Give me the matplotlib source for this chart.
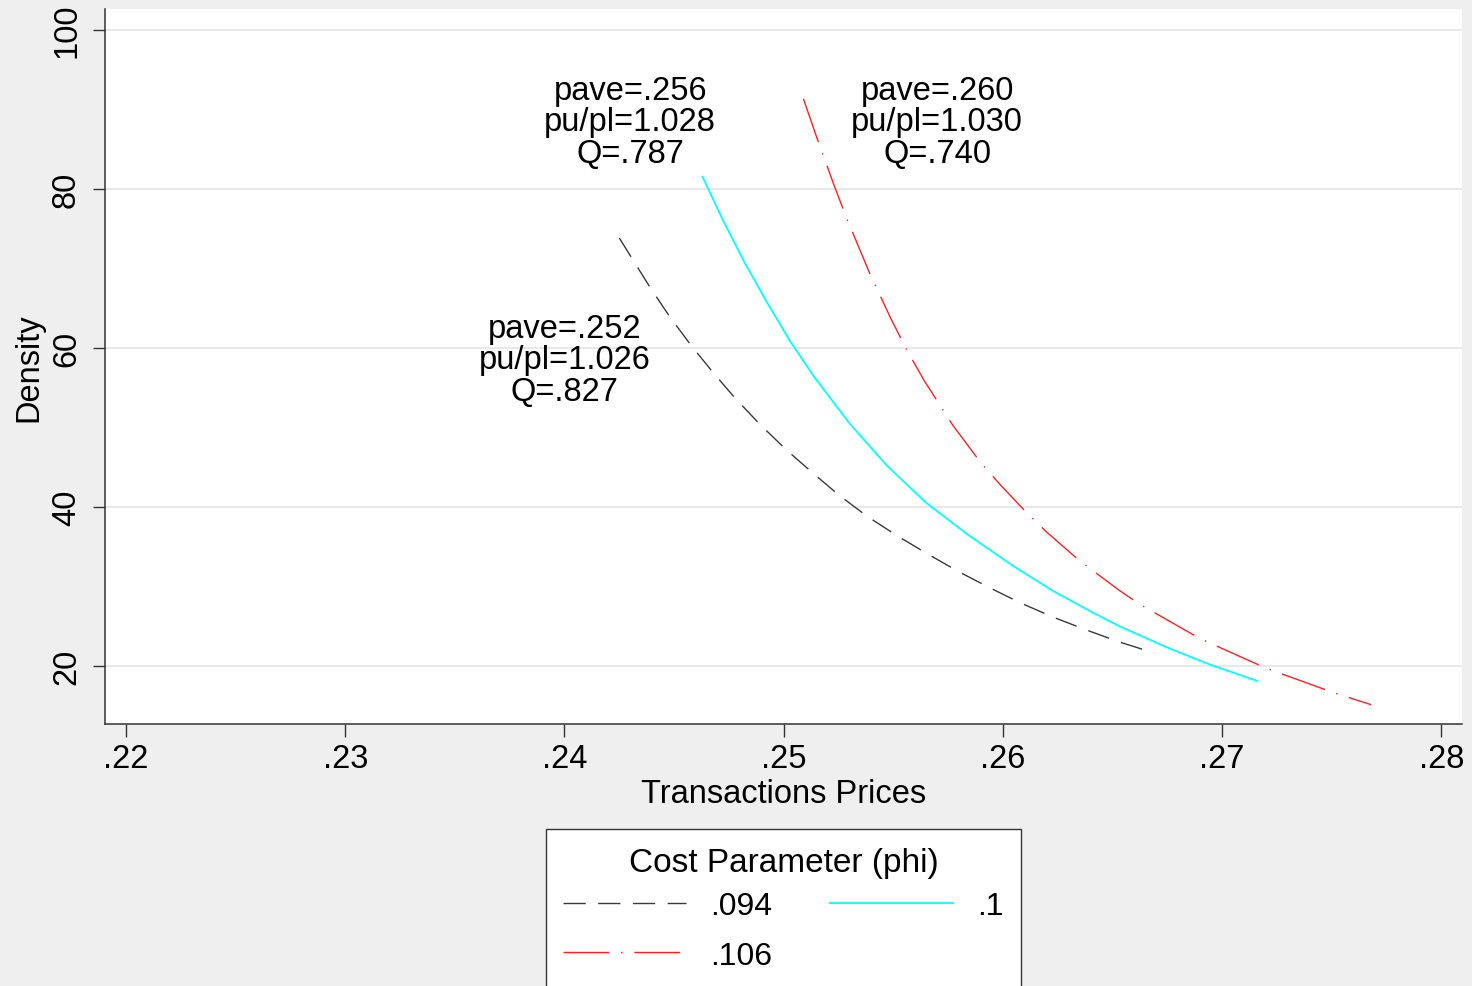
import matplotlib
matplotlib.use("Agg")
import matplotlib.pyplot as plt

plt.rcParams['font.family'] = ['Liberation Sans', 'DejaVu Sans']

# ---- data ----
phi_labels = [".094", ".1", ".106"]

x_094 = [0.2425, 0.2439, 0.2448, 0.2458, 0.2468, 0.2478, 0.2489, 0.2501, 0.2513, 0.2525,
         0.2538, 0.2552, 0.2566, 0.2580, 0.2594, 0.2608, 0.2623, 0.2638, 0.2653, 0.2669]
y_094 = [73.8, 67.6, 63.9, 60.2, 56.8, 53.6, 50.4, 47.2, 44.3, 41.5,
         38.8, 36.3, 34.0, 31.8, 29.8, 27.9, 26.1, 24.5, 23.0, 21.6]

x_100 = [0.2463, 0.2472, 0.2482, 0.2492, 0.2503, 0.2514, 0.2530, 0.2547, 0.2565, 0.2584,
         0.2605, 0.2623, 0.2641, 0.2653, 0.2675, 0.2694, 0.2716]
y_100 = [81.5, 76.2, 70.8, 65.9, 60.8, 56.3, 50.5, 45.2, 40.5, 36.5,
         32.5, 29.4, 26.7, 25.0, 22.3, 20.2, 18.1]

x_106 = [0.2509, 0.2515, 0.2523, 0.2529, 0.2539, 0.2549, 0.2556, 0.2564, 0.2577, 0.2590,
         0.2599, 0.2611, 0.2620, 0.2635, 0.2653, 0.2662, 0.2690, 0.2720, 0.2751, 0.2768]
y_106 = [91.3, 86.5, 80.4, 76.1, 69.5, 63.6, 59.8, 55.9, 50.3, 45.5,
         42.7, 39.2, 36.8, 33.2, 29.5, 27.8, 23.4, 19.7, 16.6, 15.1]

annot_texts = ["pave=.252\npu/pl=1.026\nQ=.827",
               "pave=.256\npu/pl=1.028\nQ=.787",
               "pave=.260\npu/pl=1.030\nQ=.740"]
annot_x = [0.2400, 0.2430, 0.2570]
annot_y = [58.5, 88.4, 88.4]

xticks = [0.22, 0.23, 0.24, 0.25, 0.26, 0.27, 0.28]
xticklabels = [".22", ".23", ".24", ".25", ".26", ".27", ".28"]
yticks = [20, 40, 60, 80, 100]
yticklabels = ["20", "40", "60", "80", "100"]

# ---- figure ----
W, H = 1472, 987
bg = '#efefef'
fig = plt.figure(figsize=(W / 100, H / 100), dpi=100, facecolor=bg)
ax = fig.add_axes([105 / W, 1 - 725 / H, (1462 - 105) / W, (725 - 10) / H])
ax.set_facecolor('white')

l1, = ax.plot(x_094, y_094, color='#3a3a3a', lw=1.0, dashes=(16, 9), label=phi_labels[0])
l2, = ax.plot(x_100, y_100, color='#00ffff', lw=1.3, label=phi_labels[1])
l3, = ax.plot(x_106, y_106, color='#ff2020', lw=1.0, dashes=(33, 8.5, 1, 8.5), label=phi_labels[2])

for t, xx, yy in zip(annot_texts, annot_x, annot_y):
    ax.text(xx, yy, t, ha='center', va='center', fontsize=23.5, linespacing=1.02, color='black')

ax.set_xlim(0.21904, 0.28094)
ax.set_ylim(12.67, 102.6)
ax.set_xticks(xticks)
ax.set_xticklabels(xticklabels)
ax.set_yticks(yticks)
ax.set_yticklabels(yticklabels, rotation=90, va='center')
ax.tick_params(axis='both', direction='out', length=9, width=1.0, color='#333333',
               labelsize=23.5)
ax.tick_params(axis='x', pad=4.5)
ax.tick_params(axis='y', pad=7.5)
ax.grid(axis='y', color='#e4e4e4', lw=1.2)
ax.set_axisbelow(True)
for s in ['top', 'right']:
    ax.spines[s].set_visible(False)
for s in ['left', 'bottom']:
    ax.spines[s].set_color('#333333')
    ax.spines[s].set_linewidth(1.1)

ax.set_xlabel("Transactions Prices", fontsize=23.5, labelpad=3)
ax.set_ylabel("Density", fontsize=23.5, labelpad=5)

leg = fig.legend(handles=[l1, l3, l2], labels=[phi_labels[0], phi_labels[2], phi_labels[1]],
                 ncol=2, loc='upper center', bbox_to_anchor=(783.5 / W, 1 - 830 / H),
                 title="Cost Parameter (phi)", fontsize=23, title_fontsize=24,
                 frameon=True, fancybox=False, edgecolor='#333333', facecolor='white',
                 framealpha=1.0,
                 handlelength=3.85, handletextpad=0.75, columnspacing=1.8,
                 borderpad=0.55, labelspacing=0.6, borderaxespad=0)
leg.get_frame().set_linewidth(1.0)
leg._legend_box.sep = 10

fig.savefig("out.png", dpi=100, facecolor=bg)
